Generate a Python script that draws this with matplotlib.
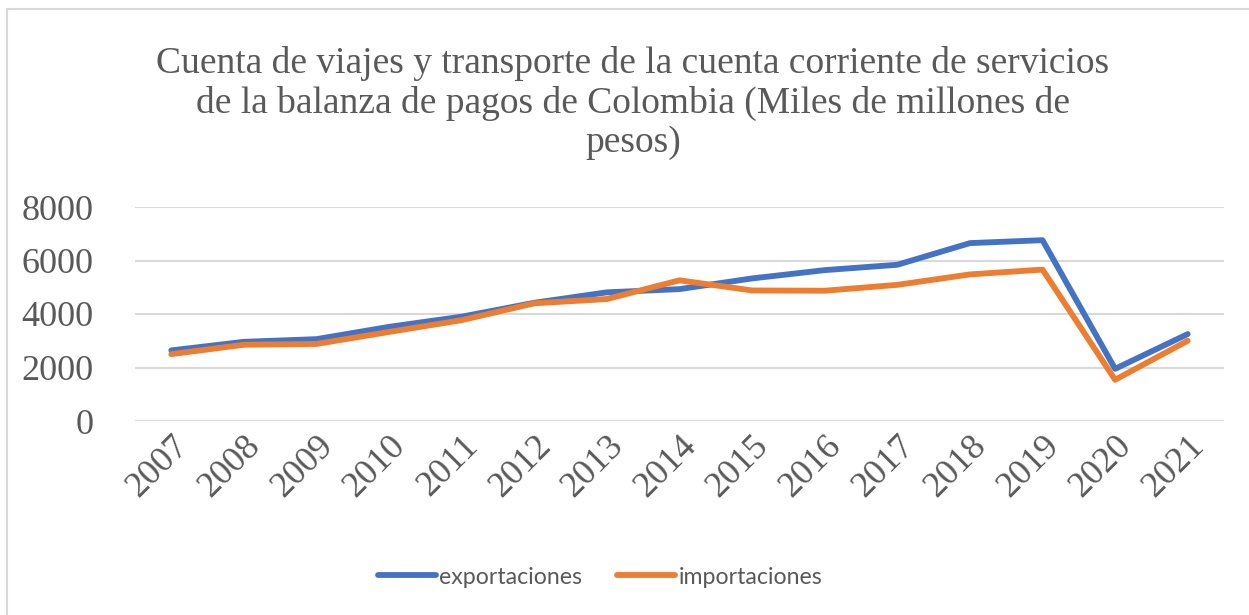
import matplotlib
matplotlib.use("Agg")
import matplotlib.pyplot as plt
from matplotlib.patches import Rectangle

years = ["2007", "2008", "2009", "2010", "2011", "2012", "2013", "2014",
         "2015", "2016", "2017", "2018", "2019", "2020", "2021"]
exportaciones = [2640, 2960, 3060, 3520, 3900, 4420, 4810, 4930,
                 5330, 5640, 5840, 6650, 6760, 1950, 3250]
importaciones = [2500, 2850, 2880, 3330, 3770, 4400, 4560, 5260,
                 4880, 4870, 5090, 5480, 5660, 1540, 3000]
yticks = [0, 2000, 4000, 6000, 8000]

title = ("Cuenta de viajes y transporte de la cuenta corriente de servicios\n"
         "de la balanza de pagos de Colombia (Miles de millones de\n"
         "pesos)")

W, H = 1249, 615
fig = plt.figure(figsize=(W / 100, H / 100), dpi=100)
fig.patch.set_facecolor("white")

# chart frame
fig.add_artist(Rectangle((7 / W, -0.05), 1.2, 1 - 9 / H + 0.05, transform=fig.transFigure,
                         fill=False, edgecolor="#D9D9D9", linewidth=1.5))

ax = fig.add_axes([135 / W, 1 - 421 / H, (1224 - 135) / W, (421 - 207) / H])
x = list(range(len(years)))
ax.plot(x, exportaciones, color="#4472C4", linewidth=4.2, solid_capstyle="round",
        solid_joinstyle="round", label="exportaciones", zorder=3)
ax.plot(x, importaciones, color="#ED7D31", linewidth=4.2, solid_capstyle="round",
        solid_joinstyle="round", label="importaciones", zorder=3)

ax.set_xlim(-0.5, len(years) - 0.5)
ax.set_ylim(0, 8000)
ax.set_yticks(yticks)
ax.set_yticklabels([str(v) for v in yticks], fontfamily="Liberation Serif",
                   fontsize=26, color="#595959")
ax.yaxis.grid(True, color="#D9D9D9", linewidth=1.5)
ax.set_axisbelow(True)
for s in ax.spines.values():
    s.set_visible(False)
ax.tick_params(axis="y", length=0, pad=30)
ax.tick_params(axis="x", length=0, pad=6)
ax.set_xticks(x)
ax.set_xticklabels(years, rotation=45, ha="right", rotation_mode="anchor",
                   fontfamily="Liberation Serif", fontsize=26, color="#595959")

fig.text(633 / W, 1 - 103 / H, title, ha="center", va="center",
         fontfamily="Liberation Serif", fontsize=27, color="#595959",
         linespacing=1.16)

leg = fig.legend(loc="center", bbox_to_anchor=(600 / W, 1 - 577 / H), ncol=2,
                 frameon=False, prop={"family": "Lato", "size": 16.7},
                 handlelength=2.5, handletextpad=0.15, columnspacing=1.5)
for t in leg.get_texts():
    t.set_color("#595959")

fig.savefig("out.png", dpi=100, facecolor="white")
